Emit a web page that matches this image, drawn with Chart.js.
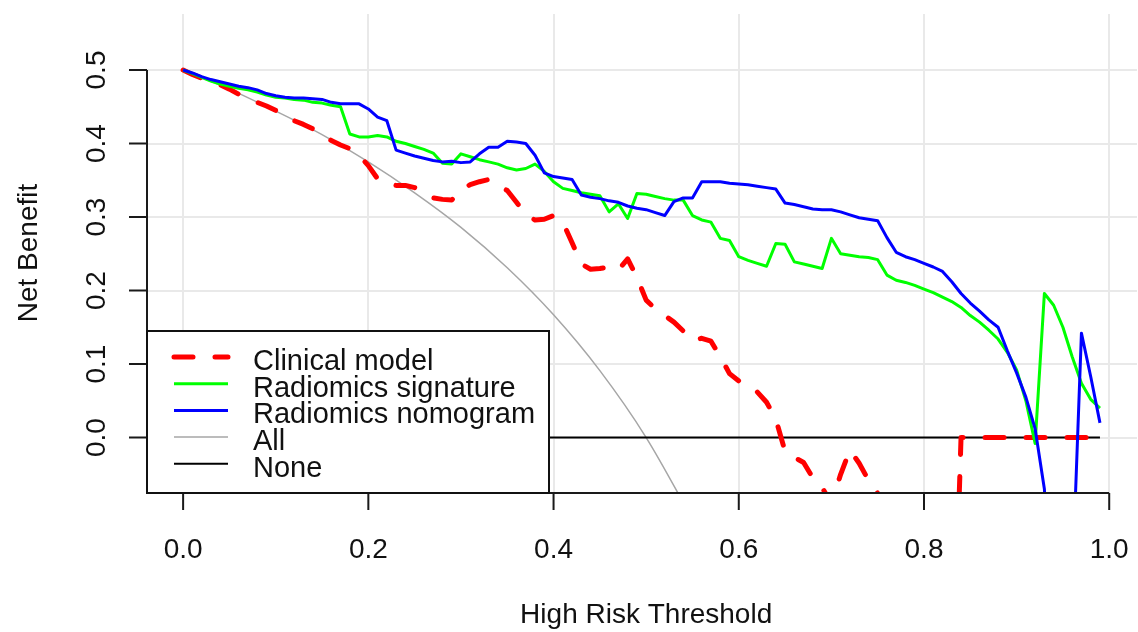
<!DOCTYPE html>
<html>
<head>
<meta charset="utf-8">
<script src="https://cdn.jsdelivr.net/npm/chart.js@4.4.1/dist/chart.umd.min.js"></script>
<style>
  html, body { margin: 0; padding: 0; background: #fff; overflow: hidden; }
  canvas { display: block; }
</style>
</head>
<body>
<canvas id="dca" width="1138" height="632"></canvas>
<script>
// Thresholds (x) shared by the three model curves
const thresholds = [
  0.00, 0.01, 0.02, 0.03, 0.04, 0.05, 0.06, 0.07, 0.08, 0.09,
  0.10, 0.11, 0.12, 0.13, 0.14, 0.15, 0.16, 0.17, 0.18, 0.19,
  0.20, 0.21, 0.22, 0.23, 0.24, 0.25, 0.26, 0.27, 0.28, 0.29,
  0.30, 0.31, 0.32, 0.33, 0.34, 0.35, 0.36, 0.37, 0.38, 0.39,
  0.40, 0.41, 0.42, 0.43, 0.44, 0.45, 0.46, 0.47, 0.48, 0.49,
  0.50, 0.51, 0.52, 0.53, 0.54, 0.55, 0.56, 0.57, 0.58, 0.59,
  0.60, 0.61, 0.62, 0.63, 0.64, 0.65, 0.66, 0.67, 0.68, 0.69,
  0.70, 0.71, 0.72, 0.73, 0.74, 0.75, 0.76, 0.77, 0.78, 0.79,
  0.80, 0.81, 0.82, 0.83, 0.84, 0.85, 0.86, 0.87, 0.88, 0.89,
  0.90, 0.91, 0.92, 0.93, 0.94, 0.95, 0.96, 0.97, 0.98, 0.99
];

const clinicalNB = [
  0.500, 0.494, 0.489, 0.484, 0.480, 0.474, 0.467, 0.461, 0.456, 0.451,
  0.445, 0.438, 0.431, 0.426, 0.420, 0.413, 0.404, 0.398, 0.393, 0.384,
  0.370, 0.352, 0.345, 0.343, 0.343, 0.340, 0.335, 0.326, 0.324, 0.323,
  0.337, 0.344, 0.348, 0.351, 0.343, 0.336, 0.320, 0.303, 0.296, 0.297,
  0.302, 0.293, 0.265, 0.236, 0.229, 0.230, 0.232, 0.228, 0.243, 0.218,
  0.187, 0.175, 0.166, 0.157, 0.145, 0.132, 0.135, 0.131, 0.110, 0.087,
  0.077, 0.070, 0.062, 0.048, 0.025, -0.019, -0.027, -0.034, -0.055, -0.068,
  -0.090, -0.050, -0.017, -0.035, -0.058, -0.076, -0.100, -0.120, -0.140, -0.160,
  -0.180, -0.200, -0.250, -0.400, 0.000, 0.000, 0.000, 0.000, 0.000, 0.000,
  0.000, 0.000, 0.000, 0.000, 0.000, 0.000, 0.000, 0.000, 0.000, 0.000
];

const signatureNB = [
  0.500, 0.495, 0.490, 0.485, 0.481, 0.478, 0.475, 0.473, 0.470, 0.466,
  0.463, 0.462, 0.460, 0.459, 0.456, 0.455, 0.452, 0.450, 0.413, 0.409,
  0.409, 0.411, 0.409, 0.403, 0.400, 0.396, 0.392, 0.387, 0.373, 0.372,
  0.386, 0.382, 0.378, 0.375, 0.372, 0.367, 0.364, 0.366, 0.372, 0.362,
  0.348, 0.339, 0.336, 0.333, 0.331, 0.329, 0.307, 0.318, 0.298, 0.332,
  0.331, 0.328, 0.325, 0.323, 0.323, 0.302, 0.296, 0.293, 0.271, 0.268,
  0.246, 0.241, 0.237, 0.233, 0.264, 0.263, 0.239, 0.236, 0.233, 0.230,
  0.271, 0.250, 0.248, 0.246, 0.245, 0.242, 0.221, 0.214, 0.211, 0.207,
  0.202, 0.197, 0.191, 0.185, 0.177, 0.166, 0.157, 0.146, 0.134, 0.116,
  0.092, 0.050, -0.008, 0.196, 0.180, 0.150, 0.110, 0.074, 0.052, 0.040
];

const nomogramNB = [
  0.500, 0.496, 0.491, 0.487, 0.484, 0.481, 0.478, 0.476, 0.473, 0.468,
  0.465, 0.463, 0.462, 0.462, 0.461, 0.460, 0.456, 0.454, 0.454, 0.454,
  0.447, 0.436, 0.431, 0.391, 0.387, 0.383, 0.380, 0.377, 0.375, 0.376,
  0.374, 0.375, 0.386, 0.395, 0.395, 0.403, 0.402, 0.400, 0.384, 0.360,
  0.355, 0.353, 0.351, 0.330, 0.327, 0.325, 0.322, 0.320, 0.315, 0.312,
  0.310, 0.306, 0.302, 0.321, 0.326, 0.326, 0.348, 0.348, 0.348, 0.346,
  0.345, 0.344, 0.342, 0.340, 0.338, 0.319, 0.317, 0.314, 0.311, 0.310,
  0.310, 0.307, 0.303, 0.299, 0.297, 0.295, 0.272, 0.252, 0.246, 0.242,
  0.237, 0.232, 0.226, 0.212, 0.196, 0.183, 0.172, 0.160, 0.150, 0.118,
  0.088, 0.055, 0.012, -0.070, -0.300, -0.300, -0.200, 0.142, 0.083, 0.020
];

// "Treat all" reference curve
const allThresholds = [0.00, 0.05, 0.10, 0.15, 0.20, 0.25, 0.30, 0.35, 0.40, 0.45, 0.50, 0.55];
const allNB = [0.500, 0.474, 0.444, 0.412, 0.375, 0.333, 0.286, 0.231, 0.167, 0.091, 0.000, -0.111];

// "Treat none" reference line
const noneThresholds = [0.00, 0.99];
const noneNB = [0, 0];

const seriesNames = ['Clinical model', 'Radiomics signature', 'Radiomics nomogram', 'All', 'None'];

const xTicks = [0, 0.2, 0.4, 0.6, 0.8, 1.0];
const xTickLabels = ['0.0', '0.2', '0.4', '0.6', '0.8', '1.0'];
const yTicks = [0, 0.1, 0.2, 0.3, 0.4, 0.5];
const yTickLabels = ['0.0', '0.1', '0.2', '0.3', '0.4', '0.5'];

const xTitle = 'High Risk Threshold';
const yTitle = 'Net Benefit';

const FONT = '"Liberation Sans", Arial, sans-serif';

function pts(xs, ys) {
  return xs.map((x, i) => ({ x, y: ys[i] }));
}

// R-style axes (line only between first and last tick), labels and boxed legend
const rStyle = {
  id: 'rStyle',
  afterDraw(chart) {
    const { ctx, chartArea: a, scales: { x, y } } = chart;
    const axisY = a.bottom + 1;
    ctx.save();

    // axes + ticks
    ctx.strokeStyle = '#1a1a1a';
    ctx.lineWidth = 2;
    ctx.beginPath();
    ctx.moveTo(a.left, y.getPixelForValue(yTicks[0]));
    ctx.lineTo(a.left, y.getPixelForValue(yTicks[yTicks.length - 1]));
    yTicks.forEach(v => {
      const p = y.getPixelForValue(v);
      ctx.moveTo(a.left, p);
      ctx.lineTo(a.left - 18, p);
    });
    ctx.moveTo(x.getPixelForValue(xTicks[0]), axisY);
    ctx.lineTo(x.getPixelForValue(xTicks[xTicks.length - 1]), axisY);
    xTicks.forEach(v => {
      const p = x.getPixelForValue(v);
      ctx.moveTo(p, axisY);
      ctx.lineTo(p, axisY + 17);
    });
    ctx.stroke();

    // tick labels
    ctx.fillStyle = '#111';
    ctx.font = '28px ' + FONT;
    ctx.textAlign = 'center';
    ctx.textBaseline = 'alphabetic';
    xTicks.forEach((v, i) => ctx.fillText(xTickLabels[i], x.getPixelForValue(v), 558));
    yTicks.forEach((v, i) => {
      ctx.save();
      ctx.translate(105, y.getPixelForValue(v));
      ctx.rotate(-Math.PI / 2);
      ctx.fillText(yTickLabels[i], 0, 0);
      ctx.restore();
    });

    // axis titles
    ctx.font = '28px ' + FONT;
    const xMid = (x.getPixelForValue(-0.04) + x.getPixelForValue(1.04)) / 2;
    ctx.fillText(xTitle, xMid, 623);
    ctx.save();
    ctx.translate(37, (a.top + a.bottom) / 2);
    ctx.rotate(-Math.PI / 2);
    ctx.fillText(yTitle, 0, 0);
    ctx.restore();

    // legend (bottom left, inside plot region)
    const lx = a.left, ly = 331, lw = 402, lh = axisY - 331;
    ctx.fillStyle = '#fff';
    ctx.fillRect(lx, ly, lw, lh);
    ctx.strokeStyle = '#111';
    ctx.lineWidth = 2;
    ctx.strokeRect(lx, ly, lw, lh);

    ctx.font = '29px ' + FONT;
    ctx.textAlign = 'left';
    chart.data.datasets.forEach((ds, i) => {
      const base = 370 + i * 26.7;
      const ym = base - 13;
      ctx.save();
      ctx.strokeStyle = ds.borderColor;
      ctx.lineWidth = ds.borderWidth;
      ctx.lineCap = ds.borderCapStyle || 'butt';
      ctx.setLineDash(ds.borderDash || []);
      ctx.beginPath();
      ctx.moveTo(lx + 27, ym);
      ctx.lineTo(lx + 81, ym);
      ctx.stroke();
      ctx.restore();
      ctx.fillStyle = '#111';
      ctx.fillText(ds.label, lx + 106, base);
    });

    ctx.restore();
  }
};

const ctx = document.getElementById('dca').getContext('2d');

const chart = new Chart(ctx, {
  type: 'line',
  data: {
    datasets: [
      { label: seriesNames[0], data: pts(thresholds, clinicalNB), borderColor: '#ff0000',
        borderWidth: 5, borderDash: [19, 22], borderCapStyle: 'round', order: 3 },
      { label: seriesNames[1], data: pts(thresholds, signatureNB), borderColor: '#00ff00',
        borderWidth: 3, order: 2 },
      { label: seriesNames[2], data: pts(thresholds, nomogramNB), borderColor: '#0000ff',
        borderWidth: 3, order: 1 },
      { label: seriesNames[3], data: pts(allThresholds, allNB), borderColor: '#a6a6a6',
        borderWidth: 1.5, cubicInterpolationMode: 'monotone', order: 5 },
      { label: seriesNames[4], data: pts(noneThresholds, noneNB), borderColor: '#000000',
        borderWidth: 2, order: 4 }
    ]
  },
  options: {
    responsive: false,
    animation: false,
    devicePixelRatio: 1,
    clip: 0,
    elements: {
      point: { radius: 0 },
      line: { tension: 0, fill: false, borderJoinStyle: 'round' }
    },
    layout: { padding: { top: 14, right: 1, left: 0, bottom: 0 } },
    scales: {
      x: {
        type: 'linear',
        min: -0.039,
        max: 1.030,
        afterBuildTicks: s => { s.ticks = xTicks.map(v => ({ value: v })); },
        afterFit: s => { s.height = 140; },
        ticks: { display: false },
        grid: { color: '#e9e9e9', lineWidth: 2, drawTicks: false },
        border: { display: false }
      },
      y: {
        type: 'linear',
        min: -0.0741,
        max: 0.5762,
        afterBuildTicks: s => { s.ticks = yTicks.map(v => ({ value: v })); },
        afterFit: s => { s.width = 147; },
        ticks: { display: false },
        grid: { color: '#e9e9e9', lineWidth: 2, drawTicks: false },
        border: { display: false }
      }
    },
    plugins: {
      legend: { display: false },
      tooltip: { enabled: false }
    }
  },
  plugins: [rStyle]
});
</script>
</body>
</html>
